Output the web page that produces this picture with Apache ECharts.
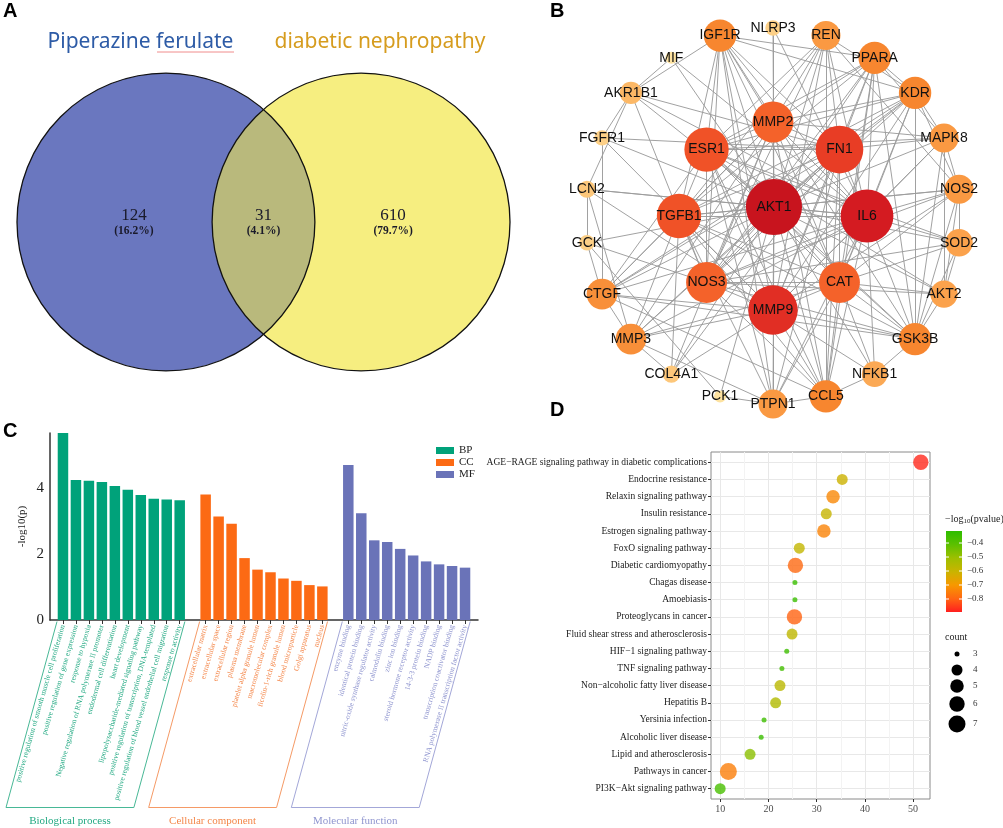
<!DOCTYPE html>
<html><head><meta charset="utf-8">
<script src="https://cdn.jsdelivr.net/npm/echarts@6/dist/echarts.min.js"></script>
<style>html,body{margin:0;padding:0;background:#fff}#c{width:1003px;height:828px}</style>
</head><body><div id="c"></div><script>
// ================= DATA =================
// Panel A – Venn
const vennSetNames = ['Piperazine ferulate', 'diabetic nephropathy'];
const vennCounts = [124, 31, 610];           // left only, shared, right only

// Panel B – PPI network
const netCenter = ['AKT1'];
const netInner = ['MMP2','FN1','IL6','CAT','MMP9','NOS3','TGFB1','ESR1'];
const netOuter = ['NLRP3','REN','PPARA','KDR','MAPK8','NOS2','SOD2','AKT2','GSK3B','NFKB1','CCL5','PTPN1','PCK1','COL4A1','MMP3','CTGF','GCK','LCN2','FGFR1','AKR1B1','MIF','IGF1R'];
const netDegree = {AKT1:30, IL6:28, MMP9:26, FN1:25, ESR1:23, TGFB1:23, NOS3:21, CAT:21, MMP2:21,
  IGF1R:16, PPARA:16, KDR:16, GSK3B:16, CCL5:16, CTGF:15, MMP3:15, REN:14, PTPN1:14, MAPK8:14, NOS2:14,
  SOD2:13, AKT2:13, NFKB1:12, AKR1B1:10, LCN2:7, COL4A1:7, FGFR1:6, GCK:6, NLRP3:6, MIF:4, PCK1:4};
const netAdjacency = {
  AKT1:['IL6','MMP9','FN1','ESR1','TGFB1','NOS3','CAT','MMP2','IGF1R','NLRP3','REN','PPARA','KDR','MAPK8','NOS2','SOD2','AKT2','GSK3B','NFKB1','CCL5','PTPN1','PCK1','COL4A1','MMP3','CTGF','GCK','LCN2','FGFR1','AKR1B1','MIF'],
  IL6:['MMP9','FN1','ESR1','TGFB1','NOS3','CAT','MMP2','IGF1R','NLRP3','REN','PPARA','KDR','MAPK8','NOS2','SOD2','GSK3B','NFKB1','CCL5','PTPN1','MMP3','CTGF','LCN2','AKR1B1','MIF'],
  MMP9:['FN1','ESR1','TGFB1','NOS3','CAT','MMP2','IGF1R','NLRP3','REN','PPARA','KDR','MAPK8','NOS2','GSK3B','NFKB1','CCL5','PTPN1','COL4A1','MMP3','CTGF','LCN2','FGFR1'],
  FN1:['ESR1','TGFB1','NOS3','CAT','MMP2','IGF1R','REN','PPARA','KDR','MAPK8','CCL5','PTPN1','COL4A1','MMP3','CTGF','FGFR1','AKR1B1'],
  ESR1:['TGFB1','NOS3','CAT','MMP2','IGF1R','REN','PPARA','KDR','MAPK8','SOD2','GSK3B','CCL5','PTPN1','CTGF','AKT2'],
  TGFB1:['NOS3','CAT','MMP2','IGF1R','REN','PPARA','KDR','NOS2','CCL5','PTPN1','COL4A1','MMP3','CTGF','GSK3B'],
  NOS3:['CAT','MMP2','IGF1R','REN','PPARA','KDR','NOS2','SOD2','AKT2','GSK3B','CCL5','AKR1B1','GCK'],
  CAT:['MMP2','IGF1R','PPARA','KDR','NOS2','SOD2','AKT2','GSK3B','CCL5','PTPN1','MMP3','NFKB1'],
  MMP2:['IGF1R','REN','PPARA','KDR','MAPK8','CCL5','PTPN1','COL4A1','MMP3','CTGF'],
  IGF1R:['KDR','PPARA','GSK3B','PTPN1','AKR1B1'],
  REN:['KDR','NOS2','CCL5'],
  PPARA:['KDR','GSK3B','CCL5','MAPK8'],
  KDR:['MAPK8','NOS2','GSK3B','CTGF'],
  MAPK8:['GSK3B','AKT2','NOS2'],
  NOS2:['SOD2','AKT2','GSK3B'],
  SOD2:['AKT2','GSK3B'],
  AKT2:['GSK3B'],
  GSK3B:['NFKB1','CTGF'],
  NFKB1:['CCL5'],
  CCL5:['PTPN1','CTGF'],
  PTPN1:['PCK1','MMP3'],
  MMP3:['CTGF','COL4A1','LCN2'],
  CTGF:['GCK','FGFR1'],
  GCK:['LCN2','PCK1'],
  FGFR1:['AKR1B1'],
  AKR1B1:['MIF','LCN2']
};

// Panel C – GO enrichment
const goBP = ['positive regulation of smooth muscle cell proliferation','positive regulation of gene expression','response to hypoxia','Negative regulation of RNA polymerase II promoter','endodermal cell differentiation','heart development','lipopolysaccharide-mediated signaling pathway','positive regulation of transcription, DNA-templated','positive regulation of blood vessel endothelial cell migration','response to activity'];
const goBPValues = [5.68, 4.25, 4.23, 4.19, 4.07, 3.96, 3.80, 3.68, 3.66, 3.64];
const goCC = ['extracellular matrix','extracellular space','extracellular region','plasma membrane','platelet alpha granule lumen','macromolecular complex','ficolin-1-rich granule lumen','blood microparticle','Golgi apparatus','nucleus'];
const goCCValues = [3.81, 3.14, 2.92, 1.88, 1.53, 1.45, 1.26, 1.19, 1.06, 1.02];
const goMF = ['enzyme binding','identical protein binding','nitric-oxide synthase regulator activity','calmodulin binding','zinc ion binding','steroid hormone receptor activity','14-3-3 protein binding','NADP binding','transcription coactivator binding','RNA polymerase II transcription factor activity'];
const goMFValues = [4.71, 3.24, 2.42, 2.37, 2.16, 1.96, 1.78, 1.69, 1.64, 1.59];
const goGroupKeys = ['BP','CC','MF'];
const goGroupNames = ['Biological process','Cellular component','Molecular function'];
const goYTicks = [0, 2, 4];

// Panel D – KEGG
const keggPathways = ['AGE\u2212RAGE signaling pathway in diabetic complications','Endocrine resistance','Relaxin signaling pathway','Insulin resistance','Estrogen signaling pathway','FoxO signaling pathway','Diabetic cardiomyopathy','Chagas disease','Amoebiasis','Proteoglycans in cancer','Fluid shear stress and atherosclerosis','HIF\u22121 signaling pathway','TNF signaling pathway','Non\u2212alcoholic fatty liver disease','Hepatitis B','Yersinia infection','Alcoholic liver disease','Lipid and atherosclerosis','Pathways in cancer','PI3K\u2212Akt signaling pathway'];
const keggX = [51.6, 35.3, 33.4, 32.0, 31.5, 26.4, 25.6, 25.5, 25.5, 25.4, 24.9, 23.8, 22.8, 22.4, 21.5, 19.1, 18.5, 16.2, 11.7, 10.0];
const keggCount = [6, 4, 5, 4, 5, 4, 6, 3, 3, 6, 4, 3, 3, 4, 4, 3, 3, 4, 7, 4];
const keggLogP = [-0.88, -0.61, -0.73, -0.60, -0.74, -0.59, -0.79, -0.34, -0.34, -0.80, -0.58, -0.35, -0.36, -0.57, -0.55, -0.35, -0.34, -0.48, -0.75, -0.37];
const keggXTicks = [10, 20, 30, 40, 50];
const keggXMinor = [15, 25, 35, 45];
const sizeLegendCounts = [3, 4, 5, 6, 7];
const colorbarTicks = [-0.4, -0.5, -0.6, -0.7, -0.8];

// ================= STYLE / LAYOUT =================
const SERIF = 'Liberation Serif, Times New Roman, serif';
const SANS = 'Liberation Sans, Arial, sans-serif';
const goColors = {BP:'#00a27a', CC:'#fc6a14', MF:'#6a73b8'};
const goLabelColors = {BP:'#22a982', CC:'#f4874a', MF:'#8f95cf'};
const goBoxColors = {BP:'#48b896', CC:'#f59a66', MF:'#a3a7d8'};
const pColors = ['#ff1f1f','#ff6612','#f79800','#c9b400','#9dbf00','#5cc000','#2dbd00'];
const pMin = -0.893, pMax = -0.314;

const vennR = 1, vennHalf = 0.655, vennLabelX = 0.87;
const ringOuter = 1, ringInner = 0.5;

function sizeOfCount(c){ return 5 + 12 * Math.sqrt((c - 3) / 4); }
function nodeSize(d){ return 12 + 1.7 * (d - 4); }
const degStops = [[4,'#fde2a0'],[7,'#fdc77a'],[10,'#fcb866'],[13,'#fba24c'],[16,'#f7862f'],[21,'#f4622a'],[23,'#f05227'],[25,'#e83d25'],[27,'#da1f22'],[30,'#c8141e']];
function hex2rgb(h){ return [parseInt(h.slice(1,3),16),parseInt(h.slice(3,5),16),parseInt(h.slice(5,7),16)]; }
function nodeColor(d){
  for (let i=1;i<degStops.length;i++){
    if (d <= degStops[i][0]){
      const [d0,c0]=degStops[i-1],[d1,c1]=degStops[i];
      const t=(d-d0)/(d1-d0), a=hex2rgb(c0), b=hex2rgb(c1);
      return 'rgb('+a.map((v,k)=>Math.round(v+(b[k]-v)*t)).join(',')+')';
    }
  }
  return degStops[degStops.length-1][1];
}

// ---- network nodes & links
const netNodes = [];
netCenter.forEach(n => netNodes.push({name:n, value:[0.005, 0.048]}));
netInner.forEach((n,i) => { const a = Math.PI/2 - i*2*Math.PI/netInner.length; netNodes.push({name:n, value:[ringInner*Math.cos(a), ringInner*Math.sin(a)]}); });
netOuter.forEach((n,i) => { const a = Math.PI/2 - i*2*Math.PI/netOuter.length; netNodes.push({name:n, value:[ringOuter*Math.cos(a), ringOuter*Math.sin(a)]}); });
netNodes.forEach(nd => { const d = netDegree[nd.name]; nd.symbolSize = nodeSize(d); nd.itemStyle = {color: nodeColor(d)}; });
const linkSet = {}; const netLinks = [];
Object.keys(netAdjacency).forEach(s => netAdjacency[s].forEach(t => {
  const k = [s,t].sort().join('|'); if (!linkSet[k]) { linkSet[k]=1; netLinks.push({source:s, target:t}); }
}));

// ---- GO categories (with spacer slots)
const goCats = [' '].concat(goBP, ['  '], goCC, ['   '], goMF, ['    ']);
const goGroupOf = {}; goBP.forEach(n=>goGroupOf[n]='BP'); goCC.forEach(n=>goGroupOf[n]='CC'); goMF.forEach(n=>goGroupOf[n]='MF');
function goSeriesData(names, vals){ return goCats.map(c => { const i = names.indexOf(c); return i >= 0 ? vals[i] : '-'; }); }
const goGroupRanges = [[goCats.indexOf(goBP[0]), 0, goCats.indexOf(goBP[goBP.length-1]), 0],
                       [goCats.indexOf(goCC[0]), 0, goCats.indexOf(goCC[goCC.length-1]), 1],
                       [goCats.indexOf(goMF[0]), 0, goCats.indexOf(goMF[goMF.length-1]), 2]];
const goMax = Math.max.apply(null, goBPValues.concat(goCCValues, goMFValues));

// ---- KEGG
const nK = keggPathways.length;
const keggData = keggPathways.map((p,i)=>[keggX[i], nK - i, keggCount[i], keggLogP[i], p]);
const keggYTicks = keggPathways.map((p,i)=>i+1);

const vennTotal = vennCounts.reduce((a,b)=>a+b,0);

const chart = echarts.init(document.getElementById('c'));

// ---- legend graphics for panel D
const cbX = 946, cbY = 531, cbW = 16, cbH = 81;
const cbY0 = v => cbY + (pMax - v) / (pMax - pMin) * cbH;
const graphics = [];
[['A',3,1],['B',550,1],['C',3,421],['D',550,400]].forEach(([t,x,y]) => graphics.push({type:'text', left:x, top:y, style:{text:t, font:'bold 20px '+SANS, fill:'#000'}}));
graphics.push({type:'text', x:140.5, y:42, style:{text:vennSetNames[0], fontFamily:'Noto Sans', fontSize:21, fill:'#2d5ba6', align:'center', verticalAlign:'middle'}});
graphics.push({type:'text', x:380, y:42, style:{text:vennSetNames[1], fontFamily:'Noto Sans', fontSize:21, fill:'#d69c1e', align:'center', verticalAlign:'middle'}});
graphics.push({type:'line', shape:{x1:157, y1:52, x2:234, y2:52}, style:{stroke:'#f08c8c', lineWidth:1}});
graphics.push({type:'text', x:cbX-1, y:cbY-12, style:{text:'{a|\u2212log}{b|10}{a|(pvalue)}', rich:{a:{fontFamily:SERIF, fontSize:10, fill:'#222'}, b:{fontFamily:SERIF, fontSize:7, fill:'#222', padding:[5,0,0,0]}}, verticalAlign:'middle'}});
graphics.push({type:'rect', shape:{x:cbX, y:cbY, width:cbW, height:cbH}, style:{fill:new echarts.graphic.LinearGradient(0,0,0,1, pColors.slice().reverse().map((c,i)=>({offset:i/(pColors.length-1), color:c})))}});
colorbarTicks.forEach(v => {
  const y = cbY0(v);
  graphics.push({type:'line', shape:{x1:cbX, y1:y, x2:cbX+3, y2:y}, style:{stroke:'#fff', lineWidth:1}});
  graphics.push({type:'line', shape:{x1:cbX+cbW-3, y1:y, x2:cbX+cbW, y2:y}, style:{stroke:'#fff', lineWidth:1}});
  graphics.push({type:'text', x:cbX+cbW+5, y:y, style:{text:'\u2212'+Math.abs(v).toFixed(1), fontFamily:SERIF, fontSize:9, fill:'#333', verticalAlign:'middle'}});
});
graphics.push({type:'text', x:cbX-1, y:637, style:{text:'count', fontFamily:SERIF, fontSize:10, fill:'#222', verticalAlign:'middle'}});
const sizeLegendY = [654, 670, 686, 704, 724];
sizeLegendCounts.forEach((c,i) => {
  graphics.push({type:'circle', shape:{cx:957, cy:sizeLegendY[i], r:sizeOfCount(c)/2}, style:{fill:'#000'}});
  graphics.push({type:'text', x:973, y:sizeLegendY[i], style:{text:String(c), fontFamily:SERIF, fontSize:9, fill:'#333', verticalAlign:'middle'}});
});

const hiddenAxis = {show:false};

const option = {
  animation: false,
  backgroundColor: '#fff',
  textStyle: {fontFamily: SERIF},
  graphic: graphics,
  legend: {data: goGroupKeys, left: 431, top: 440, orient:'vertical', icon:'rect', itemWidth:18, itemHeight:7, itemGap:1,
           textStyle:{fontFamily:SERIF, fontSize:11, color:'#222'}, selectedMode:false},
  grid: [
    {left:17, top:73, width:493, height:298, outerBoundsMode:'none'},
    {left:547.4, top:9.2, width:451.2, height:413.6, outerBoundsMode:'none'},
    {left:50, top:433, width:428, height:187, outerBoundsMode:'none'},
    {left:711, top:452, width:219, height:347, show:true, borderColor:'#8a8a8a', borderWidth:1, backgroundColor:'#fff', outerBoundsMode:'none'}
  ],
  xAxis: [
    Object.assign({type:'value', gridIndex:0, min:-(vennHalf+vennR), max:vennHalf+vennR}, hiddenAxis),
    Object.assign({type:'value', gridIndex:1, min:-1.2, max:1.2}, hiddenAxis),
    {type:'category', gridIndex:2, data:goCats, boundaryGap:false,
     axisLine:{lineStyle:{color:'#333', width:1.5}},
     axisTick:{length:4, lineStyle:{color:'#333'}, interval:(i,v)=>v.trim()!==''},
     axisLabel:{interval:0, rotate:74, margin:5, fontFamily:SERIF, fontSize:7.5, color:(v)=>goLabelColors[goGroupOf[v]]||'#fff'},
     splitLine:{show:false}},
    {type:'value', gridIndex:3, min:8.1, max:53.5, axisLine:{show:false},
     axisTick:{length:3, lineStyle:{color:'#333'}, customValues:keggXTicks},
     axisLabel:{customValues:keggXTicks, fontFamily:SERIF, fontSize:10, color:'#4d4d4d', margin:5},
     splitLine:{show:true, lineStyle:{color:'#e8e8e8', width:1}}},
    {type:'value', gridIndex:3, min:8.1, max:53.5, axisLine:{show:false}, axisLabel:{show:false},
     axisTick:{show:false, customValues:keggXMinor},
     splitLine:{show:true, lineStyle:{color:'#f3f3f3', width:1}}}
  ],
  yAxis: [
    Object.assign({type:'value', gridIndex:0, min:-vennR, max:vennR}, hiddenAxis),
    Object.assign({type:'value', gridIndex:1, min:-1.1, max:1.1}, hiddenAxis),
    {type:'value', gridIndex:2, min:0, max:goMax, interval:2,
     name:'-log10(p)', nameLocation:'middle', nameGap:22, nameTextStyle:{fontFamily:SERIF, fontSize:11, color:'#222'},
     axisLine:{show:true, lineStyle:{color:'#333', width:1.5}}, axisTick:{show:false},
     axisLabel:{fontFamily:SERIF, fontSize:15, color:'#222', margin:6, showMaxLabel:false, formatter:v=>goYTicks.indexOf(v)>=0?String(v):''},
     splitLine:{show:false}},
    {type:'value', gridIndex:3, min:0.4, max:20.6, axisLine:{show:false},
     axisTick:{length:3, lineStyle:{color:'#333'}, customValues:keggYTicks},
     axisLabel:{customValues:keggYTicks, fontFamily:SERIF, fontSize:9.5, color:'#1a1a1a', margin:4, formatter:v=>keggPathways[nK-Math.round(v)]},
     splitLine:{show:true, lineStyle:{color:'#e8e8e8', width:1}}}
  ],
  visualMap: [{show:false, type:'continuous', seriesIndex:7, dimension:3, min:pMin, max:pMax, inRange:{color:pColors}}],
  series: [
    // 0 Venn shapes
    {type:'custom', xAxisIndex:0, yAxisIndex:0, clip:false, silent:true, data:[[0,0],[1,0],[2,0],[3,0]],
     renderItem:(params, api) => {
       const i = api.value(0);
       const cL = api.coord([-vennHalf, 0]), cR = api.coord([vennHalf, 0]);
       const r = api.size([vennR, 0])[0];
       const h = Math.sqrt(vennR*vennR - vennHalf*vennHalf);
       const pT = api.coord([0, h]), pB = api.coord([0, -h]);
       if (i === 0) return {type:'circle', shape:{cx:cL[0], cy:cL[1], r:r}, style:{fill:'#6a77bf'}};
       if (i === 1) return {type:'circle', shape:{cx:cR[0], cy:cR[1], r:r}, style:{fill:'#f6ee80'}};
       if (i === 2) return {type:'path', shape:{pathData:'M'+pT[0]+' '+pT[1]+' A'+r+' '+r+' 0 0 1 '+pB[0]+' '+pB[1]+' A'+r+' '+r+' 0 0 1 '+pT[0]+' '+pT[1]+' Z'}, style:{fill:'#b9b97c'}};
       return {type:'group', children:[
         {type:'circle', shape:{cx:cL[0], cy:cL[1], r:r}, style:{fill:null, stroke:'#111', lineWidth:1.3}},
         {type:'circle', shape:{cx:cR[0], cy:cR[1], r:r}, style:{fill:null, stroke:'#111', lineWidth:1.3}}]};
     }},
    // 1 Venn labels
    {type:'custom', xAxisIndex:0, yAxisIndex:0, clip:false, silent:true, data:vennCounts.map((c,i)=>[i,0,c]),
     renderItem:(params, api) => {
       const i = api.value(0), c = api.value(2);
       const p = api.coord([[-vennLabelX, 0, vennLabelX][i], 0]);
       return {type:'group', children:[
         {type:'text', x:p[0], y:p[1]-6, style:{text:String(c), fontFamily:SERIF, fontSize:17, fill:'#1a1a2a', align:'center', verticalAlign:'middle'}},
         {type:'text', x:p[0], y:p[1]+9, style:{text:'('+(c/vennTotal*100).toFixed(1)+'%)', fontFamily:SERIF, fontWeight:'bold', fontSize:11.5, fill:'#1a1a2a', align:'center', verticalAlign:'middle'}}]};
     }},
    // 2 network
    {type:'graph', coordinateSystem:'cartesian2d', xAxisIndex:1, yAxisIndex:1, layout:'none', silent:true,
     data:netNodes, links:netLinks,
     lineStyle:{color:'#9c9c9c', width:1, opacity:0.95, curveness:0},
     label:{show:true, position:'inside', formatter:'{b}', fontFamily:SANS, fontSize:14, color:'#111'},
     emphasis:{disabled:true}},
    // 3-5 GO bars
    {type:'bar', name:'BP', xAxisIndex:2, yAxisIndex:2, stack:'go', barWidth:10.5, data:goSeriesData(goBP, goBPValues), itemStyle:{color:goColors.BP}, silent:true},
    {type:'bar', name:'CC', xAxisIndex:2, yAxisIndex:2, stack:'go', barWidth:10.5, data:goSeriesData(goCC, goCCValues), itemStyle:{color:goColors.CC}, silent:true},
    {type:'bar', name:'MF', xAxisIndex:2, yAxisIndex:2, stack:'go', barWidth:10.5, data:goSeriesData(goMF, goMFValues), itemStyle:{color:goColors.MF}, silent:true},
    // 6 GO group boxes
    {type:'custom', xAxisIndex:2, yAxisIndex:2, clip:false, silent:true, data:goGroupRanges,
     renderItem:(params, api) => {
       const s = api.value(0), e = api.value(2), g = api.value(3);
       const a = api.coord([s, 0]), b = api.coord([s+1, 0]), c = api.coord([e, 0]);
       const step = b[0]-a[0], yTop = a[1] + 1.5;
       const xl = a[0]-0.46*step, xr = c[0]+0.4*step, dx = -51, dy = 186;
       const key = goGroupKeys[g];
       return {type:'group', children:[
         {type:'polyline', shape:{points:[[xl,yTop],[xl+dx,yTop+dy],[xr+dx,yTop+dy],[xr,yTop]]}, style:{stroke:goBoxColors[key], lineWidth:1, fill:null}},
         {type:'text', x:(xl+xr)/2+dx, y:yTop+dy+14, style:{text:goGroupNames[g], fontFamily:SERIF, fontSize:11, fill:goLabelColors[key], align:'center', verticalAlign:'middle'}}]};
     }},
    // 7 KEGG dots
    {type:'scatter', xAxisIndex:3, yAxisIndex:3, data:keggData, symbolSize:v=>sizeOfCount(v[2]), silent:true}
  ]
};
chart.setOption(option);
</script></body></html>
